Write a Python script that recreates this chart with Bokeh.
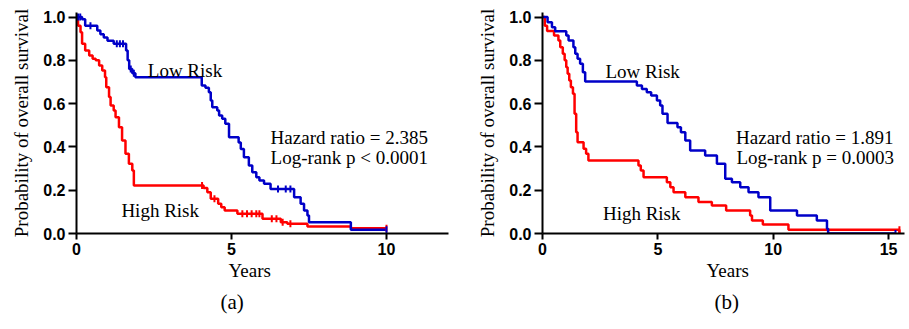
import math
from bokeh.plotting import figure
from bokeh.layouts import row
from bokeh.models import Range1d, FixedTicker, Label, PrintfTickFormatter, Title
from bokeh.embed import file_html
from bokeh.resources import INLINE

# ---------------- data (a) ----------------
a_low_t = [0, 0.18, 0.28, 0.67, 0.77, 0.88, 1.0, 1.2, 1.6, 1.65, 1.7, 1.8, 1.9, 4.04, 4.16, 4.27, 4.33,
           4.38, 4.54, 4.6, 4.7, 4.8, 4.92, 5.23, 5.3, 5.4, 5.56, 5.67, 5.8, 5.9, 6.05, 6.26, 7.02,
           7.23, 7.34, 7.45, 7.5, 8.85, 10.0]
a_low_s = [1.0, 0.99, 0.96, 0.938, 0.92, 0.905, 0.89, 0.876, 0.845, 0.80, 0.76, 0.74, 0.722, 0.684,
           0.673, 0.653, 0.614, 0.583, 0.568, 0.545, 0.53, 0.507, 0.445, 0.42, 0.39, 0.352, 0.314,
           0.283, 0.26, 0.245, 0.23, 0.206, 0.168, 0.137, 0.106, 0.083, 0.052, 0.017, 0.017]
a_high_t = [0, 0.05, 0.13, 0.18, 0.28, 0.41, 0.52, 0.62, 0.73, 0.83, 0.92, 0.96, 1.05, 1.1, 1.2, 1.26,
            1.37, 1.47, 1.58, 1.69, 1.8, 1.85, 4.1, 4.22, 4.33, 4.57, 4.67, 4.78, 5.19, 6.0, 6.59,
            6.8, 7.45, 8.85, 10.0]
a_high_s = [1.0, 0.96, 0.93, 0.876, 0.845, 0.822, 0.807, 0.80, 0.776, 0.753, 0.722, 0.676, 0.63,
            0.591, 0.568, 0.537, 0.491, 0.43, 0.368, 0.322, 0.291, 0.222, 0.21, 0.19, 0.16, 0.137,
            0.121, 0.106, 0.091, 0.068, 0.052, 0.045, 0.032, 0.024, 0.024]
a_low_cens_t = [0.05, 0.12, 0.45, 1.3, 1.4, 1.5, 1.75, 1.85, 6.5, 6.75, 6.9, 10.0]
a_low_cens_s = [1.0, 1.0, 0.96, 0.876, 0.876, 0.876, 0.76, 0.74, 0.206, 0.206, 0.206, 0.017]
a_high_cens_t = [4.05, 4.45, 5.35, 5.5, 5.65, 5.8, 5.9, 6.3, 6.45, 6.65, 6.9, 10.0]
a_high_cens_s = [0.222, 0.16, 0.091, 0.091, 0.091, 0.091, 0.091, 0.068, 0.068, 0.052, 0.045, 0.024]

# ---------------- data (b) ----------------
b_low_t = [0, 0.22, 0.41, 0.55, 1.03, 1.13, 1.34, 1.42, 1.52, 1.63, 1.75, 1.85, 4.09, 4.31, 4.52,
           4.71, 4.96, 5.1, 5.2, 5.42, 5.85, 6.0, 6.19, 6.4, 7.05, 7.56, 7.92, 8.21, 8.57, 8.93,
           9.36, 9.87, 11.03, 11.89, 12.33, 12.38, 15.3]
b_low_s = [1.0, 0.976, 0.953, 0.934, 0.915, 0.891, 0.86, 0.83, 0.807, 0.784, 0.745, 0.702, 0.684,
           0.668, 0.653, 0.637, 0.614, 0.591, 0.553, 0.51, 0.491, 0.468, 0.43, 0.383, 0.36, 0.322,
           0.253, 0.237, 0.214, 0.191, 0.168, 0.106, 0.083, 0.06, 0.022, 0.0, 0.0]
b_high_t = [0, 0.1, 0.2, 0.5, 0.69, 0.77, 0.88, 0.96, 1.03, 1.09, 1.16, 1.23, 1.32, 1.39, 1.46, 1.52,
            1.78, 1.89, 1.99, 4.16, 4.26, 4.38, 5.39, 5.54, 5.68, 6.19, 6.76, 7.34, 7.96, 9.0, 9.08,
            9.55, 10.66, 15.47, 15.5]
b_high_s = [1.0, 0.96, 0.935, 0.915, 0.891, 0.86, 0.83, 0.80, 0.768, 0.738, 0.707, 0.676, 0.645,
            0.553, 0.468, 0.422, 0.391, 0.368, 0.337, 0.314, 0.291, 0.26, 0.237, 0.214, 0.191,
            0.168, 0.145, 0.129, 0.106, 0.083, 0.06, 0.042, 0.017, 0.0, 0.0]
b_low_cens_t = [15.3]
b_low_cens_s = [0.0]
b_high_cens_t = [15.47]
b_high_cens_s = [0.017]

BLUE = "#0000c8"
RED = "#ff0000"
SERIF = "Liberation Serif"
SANS = "Liberation Sans"


def make_panel(width, border_left, border_right, xmax, xticks, low, high, low_c, high_c,
               texts, years_offset, tag, tag_offset):
    p = figure(width=width, height=329, output_backend="svg", toolbar_location=None,
               x_range=Range1d(0, xmax), y_range=Range1d(0, 1.0208),
               min_border_left=border_left, min_border_right=border_right,
               min_border_top=12, min_border_bottom=96)
    p.outline_line_color = None
    p.grid.visible = False
    p.background_fill_color = "white"
    p.border_fill_color = "white"

    for t, s, c in ((high[0], high[1], RED), (low[0], low[1], BLUE)):
        p.step(t, s, mode="after", line_color=c, line_width=2.5)
    for t, s, c in ((high_c[0], high_c[1], RED), (low_c[0], low_c[1], BLUE)):
        p.scatter(t, s, marker="dash", angle=math.pi / 2, size=7, line_color=c, line_width=2)

    for ax in (p.xaxis[0], p.yaxis[0]):
        ax.axis_line_width = 2
        ax.axis_line_color = "black"
        ax.major_tick_line_width = 2
        ax.major_tick_line_color = "black"
        ax.minor_tick_line_color = None
        ax.major_tick_in = 0
        ax.major_label_text_font = SANS
        ax.major_label_text_font_style = "bold"
        ax.major_label_text_font_size = "16px"
        ax.major_label_text_color = "black"
        ax.axis_label_text_font = SERIF
        ax.axis_label_text_font_style = "normal"
        ax.axis_label_text_font_size = "19px"
        ax.axis_label_text_color = "black"
    p.xaxis.ticker = FixedTicker(ticks=xticks)
    p.xaxis.major_tick_out = 6
    p.xaxis.major_label_standoff = 3
    p.yaxis.ticker = FixedTicker(ticks=[0, 0.2, 0.4, 0.6, 0.8, 1.0])
    p.yaxis.formatter = PrintfTickFormatter(format="%.1f")
    p.yaxis.major_tick_out = 8
    p.yaxis.major_label_standoff = 3
    p.yaxis.axis_label = "Probability of overall survival"
    p.yaxis.axis_label_standoff = 8

    for txt, x, y in texts:
        p.add_layout(Label(x=x, y=y, text=txt, text_font=SERIF, text_font_size="19px",
                           text_align="center", text_baseline="alphabetic", text_color="black"))
    p.add_layout(Title(text="Years", align="left", offset=years_offset, text_font=SERIF,
                       text_font_size="19px", text_font_style="normal", text_color="black",
                       standoff=1), "below")
    p.add_layout(Title(text=tag, align="left", offset=tag_offset, text_font=SERIF,
                       text_font_size="21px", text_font_style="normal", text_color="black",
                       standoff=13), "below")
    return p


pa = make_panel(470, 76, 22, 12.0, [0, 5, 10],
                (a_low_t, a_low_s), (a_high_t, a_high_s),
                (a_low_cens_t, a_low_cens_s), (a_high_cens_t, a_high_cens_s),
                [("Low Risk", 3.5, 0.752), ("High Risk", 2.7, 0.106),
                 ("Hazard ratio = 2.385", 8.8, 0.445), ("Log-rank p < 0.0001", 8.8, 0.351)],
                152, "(a)", 144)
pb = make_panel(439, 72, 5, 15.69, [0, 5, 10, 15],
                (b_low_t, b_low_s), (b_high_t, b_high_s),
                (b_low_cens_t, b_low_cens_s), (b_high_cens_t, b_high_cens_s),
                [("Low Risk", 4.34, 0.748), ("High Risk", 4.3, 0.092),
                 ("Hazard ratio = 1.891", 11.8, 0.443), ("Log-rank p = 0.0003", 11.82, 0.351)],
                164, "(b)", 172)

layout = row(pa, pb)
open("out.html", "w").write(file_html(layout, INLINE))
